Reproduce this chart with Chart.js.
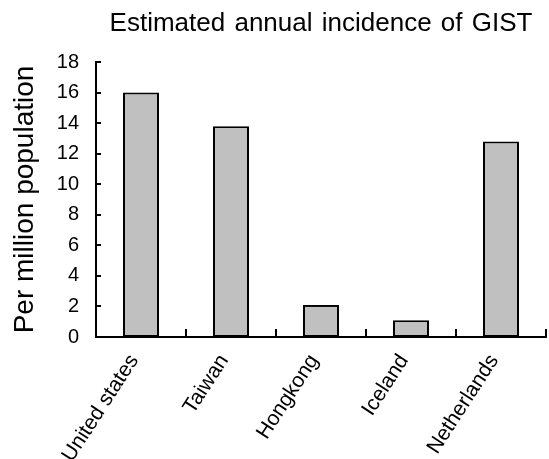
<!DOCTYPE html>
<html>
<head>
<meta charset="utf-8">
<script src="https://cdn.jsdelivr.net/npm/chart.js@4"></script>
<style>
  html, body { margin: 0; padding: 0; background: #fff; }
  #wrap { width: 549px; height: 459px; }
</style>
</head>
<body>
<div id="wrap"><canvas id="c" width="549" height="459"></canvas></div>
<script>
const chartTitle = 'Estimated annual incidence of GIST';
const yAxisTitle = 'Per million population';
const categories = ['United states', 'Taiwan', 'Hongkong', 'Iceland', 'Netherlands'];
const incidence = [16, 13.8, 2.1, 1.1, 12.8];
const yMin = 0, yMax = 18, yStep = 2;

const FONT = "'Liberation Sans', Arial, sans-serif";

const decorPlugin = {
  id: 'decor',
  afterDraw(chart) {
    const ctx = chart.ctx;
    const ca = chart.chartArea;
    const x = chart.scales.x, y = chart.scales.y;
    ctx.save();
    ctx.strokeStyle = '#000';
    ctx.lineWidth = 2;
    for (let v = yMin; v <= yMax; v += yStep) {
      const py = Math.round(y.getPixelForValue(v));
      ctx.beginPath();
      ctx.moveTo(ca.left, py);
      ctx.lineTo(ca.left + 5, py);
      ctx.stroke();
    }
    const n = categories.length;
    const bounds = [ca.left];
    for (let i = 1; i < n; i++) {
      bounds.push((x.getPixelForValue(i - 1) + x.getPixelForValue(i)) / 2);
    }
    bounds.push(ca.right);
    bounds.forEach(bx => {
      const px = Math.round(bx);
      ctx.beginPath();
      ctx.moveTo(px, ca.bottom);
      ctx.lineTo(px, ca.bottom - 8);
      ctx.stroke();
    });
    ctx.fillStyle = '#000';
    ctx.font = '26px ' + FONT;
    ctx.textAlign = 'center';
    ctx.textBaseline = 'alphabetic';
    try { ctx.wordSpacing = '2px'; } catch (e) {}
    ctx.fillText(chartTitle, (ca.left + ca.right) / 2, 31);
    ctx.restore();
  }
};

new Chart(document.getElementById('c'), {
  type: 'bar',
  data: {
    labels: categories,
    datasets: [{
      data: incidence,
      backgroundColor: '#c0c0c0',
      borderColor: '#000',
      borderWidth: 2,
      borderSkipped: false,
      categoryPercentage: 1.0,
      barPercentage: 0.4
    }]
  },
  options: {
    responsive: false,
    animation: false,
    devicePixelRatio: 1,
    layout: { padding: { top: 62, right: 3, left: 0, bottom: 0 } },
    plugins: {
      legend: { display: false },
      title: { display: false },
      tooltip: { enabled: false }
    },
    scales: {
      x: {
        offset: true,
        grid: { display: false, drawTicks: false },
        border: { display: true, color: '#000', width: 2 },
        ticks: {
          color: '#000',
          font: { family: FONT, size: 21 },
          minRotation: 57,
          maxRotation: 57,
          padding: 13,
          labelOffset: -7,
          autoSkip: false
        },
        afterFit(scale) { scale.height = 122; }
      },
      y: {
        min: yMin,
        max: yMax,
        grid: { display: false, drawTicks: false },
        border: { display: true, color: '#000', width: 2 },
        ticks: {
          stepSize: yStep,
          color: '#000',
          font: { family: FONT, size: 20 },
          padding: 17
        },
        title: {
          display: true,
          text: yAxisTitle,
          color: '#000',
          font: { family: FONT, size: 28 },
          padding: { top: 8, bottom: 0 }
        },
        afterFit(scale) { scale.width = 96; }
      }
    }
  },
  plugins: [decorPlugin]
});
</script>
</body>
</html>
